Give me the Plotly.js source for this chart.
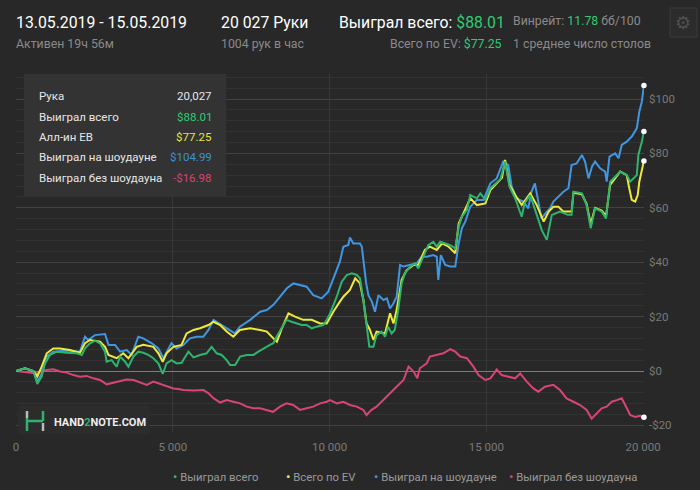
<!DOCTYPE html>
<html><head><meta charset="utf-8">
<script src="https://cdn.plot.ly/plotly-3.0.1.min.js"></script>
<style>html,body{margin:0;padding:0;background:#282828;}#chart{width:700px;height:490px;}</style>
</head><body><div id="chart"></div>
<script>
// ---- data (hands, dollars) ----
const greenHands = [0,287,553,680,820,925,1085,1300,1620,1935,2100,2200,2360,2520,2680,2840,2890,3050,3210,3320,3480,3585,3745,3900,4060,4220,4380,4540,4680,4800,4960,5120,5280,5390,5500,5660,5870,6080,6240,6400,6560,6720,6830,6990,7150,7360,7570,7730,7890,8100,8210,8310,8470,8630,8790,8950,9110,9270,9430,9590,9800,9910,10020,10230,10390,10550,10710,10870,10970,11080,11180,11270,11400,11500,11660,11770,11870,11980,12080,12190,12300,12400,12570,12730,12830,12990,13150,13310,13420,13530,13690,13850,14010,14120,14220,14380,14490,14700,14810,14970,15130,15290,15450,15600,15740,15920,16130,16220,16400,16610,16770,16930,17090,17350,17600,17720,17780,18050,18200,18330,18470,18680,18820,18950,19270,19480,19590,19800,19850,19960,20027];
const greenWon = [0,1,0,-4.8,-2,2.8,5.9,7.1,6.7,6.5,5.9,8.3,10.2,11.2,10.2,7.1,3.4,4,1.6,5.3,3.4,1.6,5.3,7.1,6.7,5.9,4.7,2.8,-1.1,2.8,4,2.8,3,5.3,7.1,5,5.9,6.5,8.9,6.5,5.9,4,2.2,2.2,5.3,5.9,5.9,7.1,8.3,9.6,10.2,12.6,15.7,18.8,18.1,17.5,16.9,16.9,15.7,16.3,16.9,18.8,21.2,27.3,32.8,35.3,35.9,35.3,34.1,26.1,16.3,8.9,8.9,13.2,14.5,12.6,16.3,13.8,15.1,22.4,32.2,35.9,38.4,39.6,37.7,42,46.3,47.5,45.7,47.5,46.9,46.3,45.1,53,56.7,59.2,64.7,63.5,65.3,62.9,67.2,69,70.5,77,67.8,63.5,56.7,61.6,64.7,57.4,51.8,48.2,57.4,58.6,57.4,57.4,65.9,65.3,61,52.5,59.8,58.6,56.1,69.6,73.3,72.1,69.6,72,79.4,84.3,88.01];

const evHands = [0,287,553,680,820,980,1190,1400,1720,2040,2200,2360,2680,2840,2950,3210,3420,3585,3850,4060,4380,4540,4680,4800,5020,5280,5440,5660,5870,6140,6300,6510,6720,6930,7140,7470,7790,8000,8210,8320,8480,8690,8900,9160,9430,9700,9910,10120,10330,10440,10650,10820,10970,11080,11180,11290,11400,11500,11770,11930,12040,12140,12300,12460,12680,12830,13040,13200,13420,13590,13800,14010,14120,14270,14380,14490,14700,14970,15130,15340,15500,15600,15740,15920,16130,16400,16610,16830,16990,17140,17300,17460,17720,17780,18050,18200,18330,18470,18680,18820,18950,19270,19480,19560,19640,19750,19830,19880,19960,20027];
const evWon = [0,1,0,-2,1.6,6.5,8.3,8.3,7.7,6.7,10.2,11.4,10.8,8.9,5.9,4.7,6.5,4.7,8.9,9.6,8.9,6.5,3.4,6.5,8.9,9.6,13.8,15.1,15.7,16.9,18.1,16.9,14.5,12.6,15.1,15.7,15.1,14.5,12,10.8,15.7,21.2,20,18.8,18.8,17.5,17.5,21.8,25.5,27.3,29.8,34.1,32.2,26.1,17.5,15.1,11.4,14.5,13.8,21.2,17.5,22.4,33.5,37.1,39,39,44.5,45.7,44.5,46.9,45.7,43.3,54.2,58,60.4,63.5,61,61.6,66.5,69,71,77.6,68.5,64.7,61,65.3,61,54.9,58.6,60.4,60.4,58.6,58.6,65.5,65,61.5,54,60,59,57,68.4,73.3,72,67.2,62.9,62.3,64.7,69.6,73.3,77.25];

const sdHands = [0,287,553,680,820,980,1190,1620,2040,2200,2300,2520,2840,2950,3160,3320,3530,3690,3900,4060,4330,4540,4700,4860,4960,5120,5340,5550,5760,5975,6140,6300,6560,6820,6980,7140,7470,7790,8000,8210,8420,8640,8850,9060,9270,9480,9750,9960,10120,10330,10440,10600,10650,10760,10970,11030,11080,11170,11240,11350,11450,11560,11720,11830,11930,12040,12140,12250,12360,12570,12780,12940,13100,13310,13420,13470,13550,13690,13850,14010,14120,14220,14330,14490,14700,14910,15130,15330,15540,15700,15810,15970,16180,16340,16440,16550,16650,16760,16930,17030,17140,17300,17460,17620,17720,17880,18050,18150,18260,18370,18470,18630,18790,18840,18930,19110,19220,19320,19480,19640,19800,19880,19960,20027];
const sdWon = [0,1,0,-4,-1,5.3,7.1,7.5,7.1,12.6,11.4,13.2,13.6,9.6,9.6,7.1,7.7,5.9,12.6,12,10.2,8.3,4.7,8.3,10.2,8.3,9.6,12,12.6,12.6,15.1,18.8,16.9,15.1,13.8,16.3,18.8,21.8,22.4,24.3,27.3,30.4,32.2,31.6,31,27.9,26.7,29.2,34.1,40.2,45.7,46.3,49.1,46.9,46.9,45.7,40.8,32.2,27.9,25.5,21.8,27.9,26.1,26.7,23,24.9,27.3,39,38.4,39,39.6,42,42,42.6,42,33.5,42.6,39,38.4,38.4,46.9,52.5,54.9,60.4,62.9,62.9,69,70.8,77,75.7,67.8,63.5,62.3,59.8,65.9,69,62.3,56.1,58.6,59.8,62.3,64.1,65.9,67.2,75.7,76.3,79.4,77,70.8,75.1,77,74.5,73.3,69.6,78.8,80,78.2,83.1,84.3,86.2,89.2,95.3,99,104.99];

const nsdHands = [0,660,820,980,1190,1400,1620,1830,2040,2250,2470,2680,2890,3100,3320,3530,3750,3960,4170,4380,4590,4810,5020,5230,5340,5660,5980,6140,6300,6510,6720,6930,7150,7360,7570,7780,7990,8200,8420,8630,8840,9060,9270,9480,9700,9910,10020,10230,10440,10650,10870,11080,11180,11340,11500,11720,11930,12140,12360,12520,12680,12800,12880,13100,13200,13420,13630,13850,14010,14170,14380,14590,14750,14970,15130,15290,15330,15490,15700,15920,16080,16290,16500,16660,16870,17140,17350,17560,17780,17990,18200,18360,18520,18680,18840,19000,19160,19320,19430,19590,19750,19910,20027];
const nsdWon = [0,-0.9,0,0.4,0.6,-0.2,-0.6,-1.5,-2.1,-1.8,-2.7,-3.3,-4.9,-4.3,-3.9,-3.1,-3.3,-4.3,-5.1,-3.9,-4.8,-5.5,-6.4,-6.7,-7,-7.2,-7,-8.2,-10,-11.6,-10.7,-11.3,-11.9,-13.1,-13.7,-13.7,-14.3,-15,-13.1,-11.9,-12.5,-14.3,-13.7,-13.1,-11.9,-11.3,-10.7,-11.9,-11.3,-12.5,-13.1,-14.3,-16.2,-14.3,-13.1,-10.7,-8.2,-5.8,-3.3,1.6,-0.2,-2.7,1,2.8,5.3,5.9,6.5,8,7.1,5.3,4.7,1.6,-1.5,-3.3,-2.7,-0.2,0.6,-1.5,-2.1,-2.7,-0.9,-3.9,-6.4,-7.6,-5.8,-5.1,-7,-10.1,-11.3,-12.5,-14.3,-17.5,-15.6,-13.7,-13.1,-11.3,-10.7,-10,-12.5,-16.2,-16.9,-16.5,-16.98];

const seriesNames = ['Выиграл всего','Всего по EV','Выиграл на шоудауне','Выиграл без шоудауна'];
const yTickVals = [-20,0,20,40,60,80,100];
const yTickText = ['-$20','$0','$20','$40','$60','$80','$100'];
const xTickVals = [0,5000,10000,15000,20000];
const xTickText = ['0','5 000','10 000','15 000','20 000'];
const tooltipLabels = ['Рука','Выиграл всего','Алл-ин EB','Выиграл на шоудауне','Выиграл без шоудауна'];
const tooltipValues = ['20,027','$88.01','$77.25','$104.99','-$16.98'];

// ---- style ----
const C = {green:'#2db46e', yellow:'#eeea3a', blue:'#4096e0', pink:'#d8447a', bg:'#282828', gray:'#8a8a8a'};
const M = {l:16, r:56, t:74, b:58};
const PW = 700 - M.l - M.r, PH = 490 - M.t - M.b;
const px = x => (x - M.l) / PW;
const py = y => (490 - M.b - y) / PH;
const FONT = 'Roboto, "Noto Sans", sans-serif';

function line(x, y, color, name) {
  return {x, y, type:'scatter', mode:'lines', name, line:{color, width:2}, showlegend:false, hoverinfo:'skip'};
}
function endDot(x, y) {
  return {x:[x[x.length-1]], y:[y[y.length-1]], type:'scatter', mode:'markers', marker:{color:'#ffffff', size:5.5}, showlegend:false, hoverinfo:'skip', cliponaxis:false};
}
const traces = [
  line(nsdHands, nsdWon, C.pink, seriesNames[3]),
  line(sdHands, sdWon, C.blue, seriesNames[2]),
  line(evHands, evWon, C.yellow, seriesNames[1]),
  line(greenHands, greenWon, C.green, seriesNames[0]),
  endDot(sdHands, sdWon), endDot(greenHands, greenWon), endDot(evHands, evWon), endDot(nsdHands, nsdWon)
];

const ann = [];
function T(x, y, text, size, color, anchor, extra) {
  ann.push(Object.assign({xref:'paper', yref:'paper', x:px(x), y:py(y), text, showarrow:false,
    xanchor:anchor||'left', yanchor:'middle', font:{family:FONT, size, color}}, extra||{}));
}
const g = s => `<span style="color:#2ecc71">${s}</span>`;
T(14, 22, '13.05.2019 - 15.05.2019', 15.8, '#ffffff');
T(14, 44, 'Активен 19ч 56м', 12.3, C.gray);
T(219, 22, '20 027 Руки', 15.8, '#ffffff');
T(219, 44, '1004 рук в час', 12.3, C.gray);
T(337, 22, 'Выиграл всего: ' + g('$88.01'), 15.8, '#ffffff');
T(511, 21, 'Винрейт: ' + g('11.78') + ' бб/100', 12.3, C.gray);
T(504, 44, 'Всего по EV: ' + g('$77.25'), 12.3, C.gray, 'right');
T(511, 44, '1 среднее число столов', 12.3, C.gray);
T(683, 22, '⚙', 18, '#505050', 'center');

const tipColors = ['#e6e6e6','#2ecc71','#e8e43a','#3d8fd9','#d8447a'];
const tipY = [96,117,137,157,178];
tooltipLabels.forEach((s,i) => {
  T(37, tipY[i], s, 11.5, '#e6e6e6');
  T(214, tipY[i], tooltipValues[i], 11.5, tipColors[i], 'right');
});

// legend
const legX = [171, 284, 372, 507];
const legCol = [C.green, C.yellow, C.blue, C.pink];
seriesNames.forEach((s,i) => {
  T(legX[i], 476, `<span style="color:${legCol[i]};font-size:13px">•</span> ${s}`, 11.3, '#9a9a9a');
});

// watermark
T(52, 422, '<b>HAND<span style="color:#2db46e">2</span>NOTE.COM</b>', 11, '#eeeeee');

const shapes = [
  {type:'rect', xref:'paper', yref:'paper', x0:px(24), x1:px(226), y0:py(74), y1:py(197), fillcolor:'#333333', line:{width:0}, layer:'above'},
  {type:'rect', xref:'paper', yref:'paper', x0:px(670), x1:px(697), y0:py(8), y1:py(37), fillcolor:'#2c2c2c', line:{color:'#3a3a3a', width:1}},
  {type:'rect', xref:'paper', yref:'paper', x0:px(18), x1:px(150), y0:py(406), y1:py(434), fillcolor:'#2c2c2c', line:{width:0}, layer:'above'},
  {type:'line', xref:'paper', yref:'paper', x0:px(27), x1:px(27), y0:py(411), y1:py(418), line:{color:'#bbbbbb', width:2.5}, layer:'above'},
  {type:'line', xref:'paper', yref:'paper', x0:px(27), x1:px(27), y0:py(418), y1:py(431), line:{color:'#2db46e', width:2.5}, layer:'above'},
  {type:'line', xref:'paper', yref:'paper', x0:px(27), x1:px(43), y0:py(421), y1:py(421), line:{color:'#2db46e', width:2.5}, layer:'above'},
  {type:'line', xref:'paper', yref:'paper', x0:px(43), x1:px(43), y0:py(411), y1:py(421), line:{color:'#2db46e', width:2.5}, layer:'above'},
  {type:'line', xref:'paper', yref:'paper', x0:px(43), x1:px(43), y0:py(423), y1:py(431), line:{color:'#bbbbbb', width:2.5}, layer:'above'}
];

const yTop = (371 - M.t) / 2.72, yBot = -(490 - M.b - 371) / 2.72;
const layout = {
  width:700, height:490, margin:M, paper_bgcolor:C.bg, plot_bgcolor:C.bg,
  font:{family:FONT, color:'#7a7a7a', size:11.5}, showlegend:false, hovermode:false,
  xaxis:{range:[0,20030], tickmode:'array', tickvals:xTickVals, ticktext:xTickText, showgrid:true, gridcolor:'#383838',
    zeroline:false, showline:false, ticks:'', ticklabelstandoff:6, tickfont:{color:'#7a7a7a', size:11.5}, fixedrange:true},
  yaxis:{range:[yBot, yTop], side:'right', tickmode:'array', tickvals:yTickVals, ticktext:yTickText, showgrid:true,
    gridcolor:'#434343', zeroline:true, zerolinecolor:'#7c7c7c', zerolinewidth:1, showline:false, ticks:'', ticklabelstandoff:4,
    minor:{tickmode:'linear', tick0:0, dtick:4, showgrid:true, gridcolor:'#323232', ticks:''},
    tickfont:{color:'#7a7a7a', size:11.5}, fixedrange:true},
  annotations:ann, shapes
};
Plotly.newPlot('chart', traces, layout, {staticPlot:true, displayModeBar:false});
</script></body></html>
